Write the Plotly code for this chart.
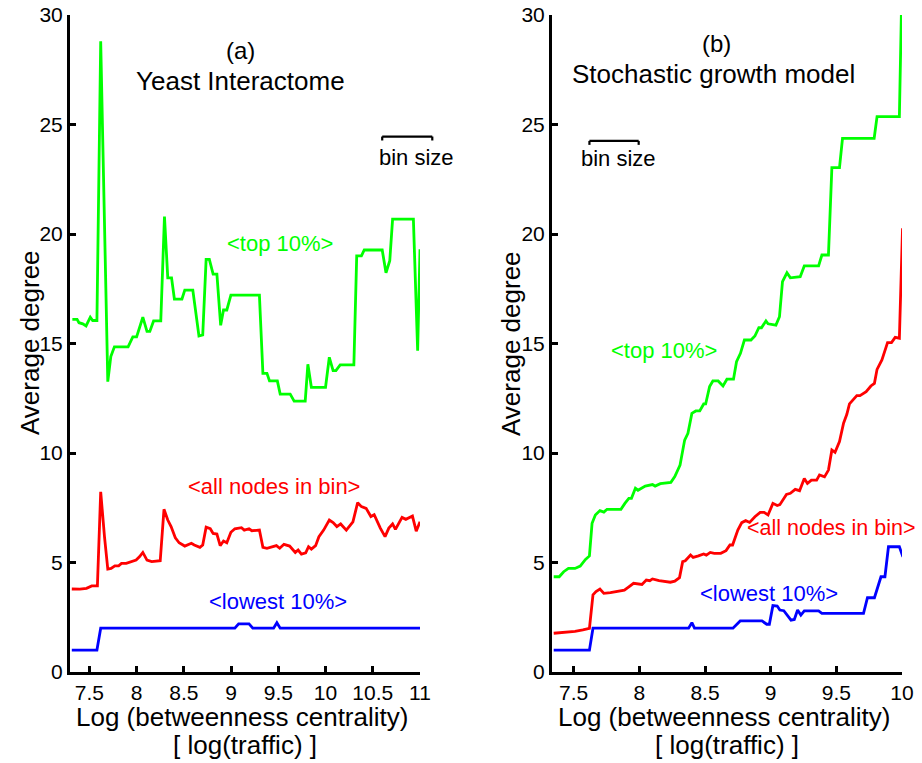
import plotly.graph_objects as go

# ---------------- Panel (a): Yeast Interactome ----------------
a_top_x = [7.32, 7.37, 7.39, 7.43, 7.465, 7.51, 7.535, 7.58, 7.62, 7.695, 7.727, 7.765, 7.91, 7.96, 8.0,
           8.066, 8.11, 8.14, 8.18, 8.256, 8.295, 8.33, 8.37, 8.40, 8.48, 8.51, 8.595, 8.66, 8.70, 8.736,
           8.77, 8.81, 8.85, 8.89, 8.92, 8.955, 8.998, 9.30, 9.337, 9.38, 9.407, 9.49, 9.52, 9.626,
           9.668, 9.785, 9.813, 9.85, 10.0, 10.04, 10.08, 10.11, 10.155, 10.3, 10.33, 10.38, 10.41,
           10.6, 10.64, 10.68, 10.71, 10.93, 10.975, 11.0]
a_top_y = [16.1, 16.1, 15.95, 15.9, 15.8, 16.2, 16.05, 16.05, 28.8, 13.26, 14.4, 14.85, 14.85, 15.3, 15.3,
           16.2, 15.55, 15.55, 16.03, 16.03, 20.8, 18.0, 18.0, 17.03, 17.03, 17.44, 17.44, 15.34, 15.39, 18.84,
           18.84, 18.17, 18.17, 15.83, 16.53, 16.53, 17.21, 17.21, 13.64, 13.64, 13.29, 13.29, 12.69, 12.69,
           12.37, 12.37, 14.05, 13.0, 13.0, 14.37, 13.76, 13.76, 14.02, 14.02, 19.0, 19.0, 19.27,
           19.27, 18.23, 18.78, 20.68, 20.68, 14.67, 19.3]

a_all_x = [7.314, 7.40, 7.47, 7.525, 7.585, 7.62, 7.66, 7.695, 7.73, 7.77, 7.81, 7.84, 7.89, 7.95, 7.995,
           8.03, 8.066, 8.11, 8.16, 8.25, 8.29, 8.33, 8.365, 8.41, 8.45, 8.51, 8.58, 8.61, 8.67, 8.70,
           8.736, 8.78, 8.81, 8.85, 8.885, 8.92, 8.955, 8.998, 9.04, 9.11, 9.14, 9.19, 9.22, 9.30, 9.337,
           9.38, 9.43, 9.48, 9.515, 9.56, 9.62, 9.68, 9.71, 9.745, 9.79, 9.82, 9.85, 9.895, 9.93, 9.98,
           10.04, 10.08, 10.12, 10.16, 10.22, 10.29, 10.34, 10.38, 10.43, 10.48, 10.515, 10.55, 10.58,
           10.63, 10.67, 10.71, 10.74, 10.81, 10.85, 10.92, 10.96, 11.0]
a_all_y = [3.79, 3.78, 3.82, 3.93, 3.93, 8.23, 6.18, 4.70, 4.73, 4.85, 4.85, 4.96, 4.96, 5.04, 5.11,
           5.26, 5.46, 5.11, 5.04, 5.08, 7.43, 6.94, 6.64, 6.13, 5.90, 5.75, 5.88, 5.8, 5.69, 5.8,
           6.61, 6.54, 6.33, 6.3, 5.77, 5.98, 5.9, 6.38, 6.54, 6.59, 6.48, 6.54, 6.45, 6.48, 5.69,
           5.65, 5.72, 5.77, 5.65, 5.83, 5.75, 5.46, 5.57, 5.38, 5.44, 5.72, 5.61, 5.77, 6.18, 6.48,
           6.94, 6.82, 6.64, 6.76, 6.48, 6.86, 7.73, 7.55, 7.47, 7.1, 7.18, 6.82, 6.57,
           6.18, 6.57, 6.76, 6.51, 7.06, 6.97, 7.12, 6.43, 6.86]

a_low_x = [7.314, 7.58, 7.62, 9.04, 9.08, 9.19, 9.23, 9.45, 9.485, 9.52, 11.0]
a_low_y = [1.0, 1.0, 2.0, 2.0, 2.2, 2.2, 2.0, 2.0, 2.25, 2.0, 2.0]

# ---------------- Panel (b): Stochastic growth model ----------------
b_top_x = [7.348, 7.39, 7.424, 7.46, 7.51, 7.55, 7.59, 7.62, 7.64, 7.665, 7.70, 7.73, 7.754, 7.86, 7.89,
           7.92, 7.94, 7.97, 7.99, 8.045, 8.10, 8.12, 8.16, 8.21, 8.24, 8.27, 8.31, 8.345, 8.37, 8.40,
           8.43, 8.46, 8.49, 8.505, 8.535, 8.56, 8.60, 8.637, 8.667, 8.717, 8.74, 8.77, 8.80, 8.85,
           8.88, 8.91, 8.93, 8.964, 8.98, 9.04, 9.067, 9.09, 9.124, 9.15, 9.225, 9.256, 9.365, 9.39,
           9.44, 9.466, 9.524, 9.547, 9.788, 9.81, 9.98, 9.995]
b_top_y = [4.35, 4.35, 4.58, 4.73, 4.73, 4.84, 5.14, 5.3, 6.79, 7.17, 7.37, 7.3, 7.43, 7.43, 7.70,
           7.93, 7.93, 8.39, 8.3, 8.49, 8.56, 8.49, 8.6, 8.65, 8.66, 8.92, 9.45, 10.59, 10.9, 11.81,
           11.92, 11.92, 12.24, 12.24, 13.03, 13.29, 13.29, 13.06, 13.37, 13.37, 14.17, 14.55, 15.16, 15.16,
           15.34, 15.72, 15.72, 16.03, 15.9, 15.84, 16.22, 17.82, 18.23, 18.0, 18.05, 18.54, 18.54, 19.04,
           19.04, 23.03, 23.03, 24.37, 24.37, 25.36, 25.36, 30.0]

b_all_x = [7.348, 7.45, 7.51, 7.57, 7.62, 7.647, 7.67, 7.70, 7.73, 7.78, 7.84, 7.886, 7.92, 7.956, 8.02,
           8.053, 8.08, 8.10, 8.15, 8.236, 8.27, 8.306, 8.33, 8.35, 8.39, 8.41, 8.45, 8.49, 8.51, 8.54,
           8.57, 8.62, 8.66, 8.69, 8.71, 8.75, 8.78, 8.81, 8.84, 8.88, 8.92, 8.95, 8.98, 9.017, 9.05,
           9.07, 9.12, 9.15, 9.187, 9.22, 9.256, 9.28, 9.31, 9.35, 9.372, 9.41, 9.44, 9.466, 9.49,
           9.524, 9.555, 9.58, 9.60, 9.656, 9.68, 9.727, 9.763, 9.79, 9.81, 9.847, 9.89, 9.92, 9.948,
           9.98, 10.004]
b_all_y = [1.77, 1.81, 1.86, 1.92, 1.99, 3.52, 3.67, 3.79, 3.59, 3.62, 3.7, 3.74, 3.89, 4.05, 4.0,
           4.2, 4.17, 4.25, 4.17, 4.1, 4.15, 4.31, 5.04, 5.08, 5.34, 5.23, 5.3, 5.39, 5.34, 5.46,
           5.42, 5.42, 5.54, 5.8, 5.8, 6.48, 6.82, 6.91, 6.83, 7.09, 7.29, 7.29, 7.17, 7.70, 7.6,
           7.64, 8.11, 8.16, 8.34, 8.28, 8.84, 8.61, 8.76, 8.76, 9.0, 8.91, 9.22, 10.14, 10.03,
           10.52, 11.36, 11.77, 12.24, 12.62, 12.62, 12.8, 13.06, 13.18, 13.82, 14.25, 15.04, 15.04, 15.28,
           15.24, 20.26]

b_low_x = [7.348, 7.62, 7.647, 8.375, 8.40, 8.42, 8.713, 8.768, 8.934, 8.97, 8.99, 9.017, 9.05, 9.07,
           9.10, 9.155, 9.18, 9.205, 9.23, 9.256, 9.365, 9.39, 9.707, 9.737, 9.79, 9.84, 9.87, 9.897,
           9.98, 10.007]
b_low_y = [1.0, 1.0, 2.0, 2.0, 2.25, 2.0, 2.0, 2.33, 2.33, 2.18, 2.18, 3.03, 3.01, 2.83,
           2.8, 2.37, 2.4, 2.83, 2.6, 2.79, 2.79, 2.68, 2.68, 3.39, 3.39, 4.35, 4.35, 5.72,
           5.72, 5.26]

a_xticks = [7.5, 8, 8.5, 9, 9.5, 10, 10.5, 11]
b_xticks = [7.5, 8, 8.5, 9, 9.5, 10]
yticks = [0, 5, 10, 15, 20, 25, 30]
a_xrange = [7.295, 11.0]
b_xrange = [7.335, 10.0]
yrange = [0, 30]

GREEN, RED, BLUE = "#00ff00", "#ff0000", "#0000ff"
FONT = "Liberation Sans, Arial, sans-serif"

fig = go.Figure()
for xs, ys, c in [(a_top_x, a_top_y, GREEN), (a_all_x, a_all_y, RED), (a_low_x, a_low_y, BLUE)]:
    fig.add_trace(go.Scatter(x=xs, y=ys, mode="lines", line=dict(color=c, width=2.8),
                             xaxis="x", yaxis="y", showlegend=False, cliponaxis=False))
for xs, ys, c in [(b_top_x, b_top_y, GREEN), (b_all_x, b_all_y, RED), (b_low_x, b_low_y, BLUE)]:
    fig.add_trace(go.Scatter(x=xs, y=ys, mode="lines", line=dict(color=c, width=2.8),
                             xaxis="x2", yaxis="y2", showlegend=False, cliponaxis=False))

# page body margin is removed in post_script, so the figure fills the window exactly
OFF = 0
W, H = 922 - OFF, 763 - OFF
ML = 70 - OFF
MT = 15 - OFF
MR = W - (902 - OFF)
MB = H - (672 - OFF)
PW = W - ML - MR
PH = H - MT - MB
dom_a = [0.0, (420 - 70) / PW]
dom_b = [(552 - 70) / PW, 1.0]

axis_common = dict(showline=True, linecolor="black", linewidth=3, ticks="inside", ticklen=6,
                   tickwidth=2.5, tickcolor="black", showgrid=False, zeroline=False, automargin=False,
                   ticklabeloverflow="allow",
                   tickfont=dict(family=FONT, size=21, color="black"), mirror=False)

fig.update_layout(
    width=W, height=H, margin=dict(l=ML, r=MR, t=MT, b=MB),
    paper_bgcolor="white", plot_bgcolor="white",
    xaxis=dict(domain=dom_a, range=a_xrange, tickvals=a_xticks, anchor="y", **axis_common),
    yaxis=dict(domain=[0, 1], range=yrange, tickvals=yticks, anchor="x", **axis_common),
    xaxis2=dict(domain=dom_b, range=b_xrange, tickvals=b_xticks, anchor="y2", **axis_common),
    yaxis2=dict(domain=[0, 1], range=yrange, tickvals=yticks, anchor="x2", **axis_common),
)


def ann(text, x, y, xr, yr, color="black", size=20, angle=0):
    fig.add_annotation(text=text, x=x, y=y, xref=xr, yref=yr, showarrow=False, textangle=angle,
                       font=dict(family=FONT, size=size, color=color), xanchor="center", yanchor="middle")


# reference-pixel -> paper coordinates
def px_to_paper_x(px):
    return (px - OFF - ML) / PW


def px_to_paper_y(py):
    return (H - MB - (py - OFF)) / PH


for cx in [(dom_a[0] + dom_a[1]) / 2, (dom_b[0] + dom_b[1]) / 2]:
    ann("Log (betweenness centrality)", cx - 0.004, px_to_paper_y(717), "paper", "paper", size=26)
    ann("[ log(traffic) ]", cx, px_to_paper_y(745), "paper", "paper", size=26)
ann("Average degree", px_to_paper_x(30), px_to_paper_y(343), "paper", "paper", size=26, angle=-90)
ann("Average degree", px_to_paper_x(511), px_to_paper_y(343), "paper", "paper", size=26, angle=-90)

ann("(a)", 9.1, 28.4, "x", "y", size=24)
ann("Yeast Interactome", 9.1, 27.0, "x", "y", size=26)
ann("&lt;top 10%&gt;", 9.52, 19.57, "x", "y", GREEN, 22)
ann("&lt;all nodes in bin&gt;", 9.45, 8.46, "x", "y", RED, 22)
ann("&lt;lowest 10%&gt;", 9.5, 3.21, "x", "y", BLUE, 22)
ann("bin size", 10.96, 23.5, "x", "y", "black", 22)

ann("(b)", 8.59, 28.7, "x2", "y2", size=24)
ann("Stochastic growth model", 8.565, 27.3, "x2", "y2", size=26)
ann("&lt;top 10%&gt;", 8.185, 14.7, "x2", "y2", GREEN, 22)
ann("&lt;all nodes in bin&gt;", 9.465, 6.56, "x2", "y2", RED, 21.5)
ann("&lt;lowest 10%&gt;", 8.99, 3.59, "x2", "y2", BLUE, 22)
ann("bin size", 7.84, 23.46, "x2", "y2", "black", 22)


def to_paper(x, rng, dom):
    return dom[0] + (x - rng[0]) / (rng[1] - rng[0]) * (dom[1] - dom[0])


def bin_bar(x0, x1, y, rng, dom):
    px0, px1 = to_paper(x0, rng, dom), to_paper(x1, rng, dom)
    py = y / 30.0
    dy = 0.006
    for (ax0, ay0, ax1, ay1) in [(px0, py, px1, py), (px0, py, px0, py - dy), (px1, py, px1, py - dy)]:
        fig.add_shape(type="line", xref="paper", yref="paper", x0=ax0, y0=ay0, x1=ax1, y1=ay1,
                      line=dict(color="black", width=2.2))


bin_bar(10.6, 11.13, 24.45, a_xrange, dom_a)
bin_bar(7.62, 7.995, 24.25, b_xrange, dom_b)

fig.write_html("out.html", config={"displayModeBar": False},
               post_script="document.body.style.margin='0px';document.body.style.overflow='hidden';")
